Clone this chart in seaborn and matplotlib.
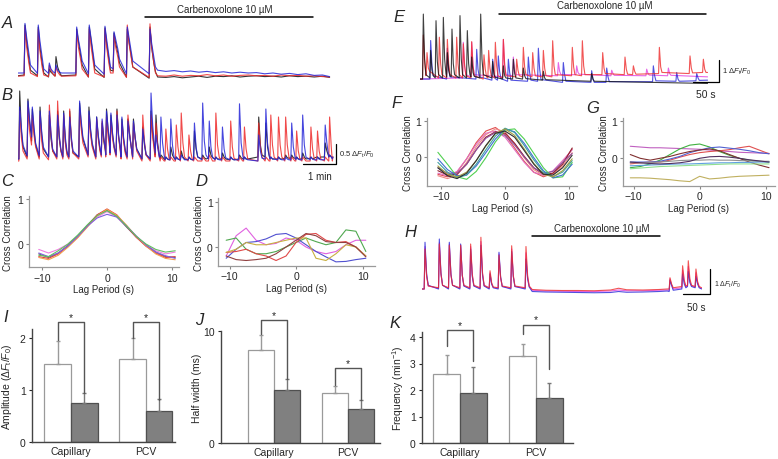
import numpy as np
import pandas as pd
import matplotlib
matplotlib.use('Agg')
import matplotlib.pyplot as plt
import seaborn as sns

sns.set_style('ticks')
plt.rcParams['font.family'] = ['Liberation Sans', 'DejaVu Sans']
plt.rcParams['mathtext.fontset'] = 'custom'
plt.rcParams['mathtext.rm'] = 'Liberation Sans'
plt.rcParams['mathtext.it'] = 'Liberation Sans:italic'

W, H = 778, 460
DFF = r'$\Delta F_{\rm t}/F_0$'

# ---------------- traces (time in s, dF/F0) ----------------
# A: per event rows = base (t-1.5), peak, t+3, t+7, t+10
a_events = [13.6, 37.8, 57.9, 70, 107.7, 130.6, 159.2, 175.6, 199.8, 241.1]
a_black = [[0.0, -0.02, -0.05, -0.02, 0.0, -0.05, -0.06, 0.1, -0.05, -0.08],
           [1.25, 1.2, 0.15, 0.46, 1.15, 1.2, 1.18, 1.05, 1.15, 1.2],
           [0.85, 0.7, 0.07, 0.2, 0.85, 0.9, 0.8, 0.8, 0.85, 0.7],
           [0.4, 0.3, 0.02, 0.05, 0.5, 0.45, 0.4, 0.55, 0.5, 0.3],
           [0.12, 0.05, -0.02, -0.02, 0.25, 0.15, 0.12, 0.3, 0.2, 0.08]]
a_red = [[-0.02, -0.04, -0.04, -0.03, -0.02, -0.05, -0.05, 0.05, -0.06, -0.06],
         [1.2, 1.15, 0.25, 0.2, 1.1, 1.15, 1.15, 1.0, 1.25, 1.28],
         [0.7, 0.6, 0.12, 0.08, 0.7, 0.75, 0.7, 0.7, 0.8, 0.7],
         [0.3, 0.2, 0.02, 0.0, 0.4, 0.35, 0.3, 0.45, 0.45, 0.3],
         [0.05, 0.0, -0.03, -0.03, 0.15, 0.05, 0.05, 0.2, 0.2, 0.05]]
a_blue = [[0.05, 0.04, 0.04, 0.06, 0.05, 0.03, 0.02, 0.15, 0.03, 0.03],
          [1.29, 1.25, 0.3, 0.25, 1.2, 1.25, 1.22, 1.08, 1.2, 1.15],
          [0.95, 0.85, 0.15, 0.12, 0.9, 0.95, 0.9, 0.9, 0.95, 0.8],
          [0.55, 0.45, 0.08, 0.07, 0.6, 0.55, 0.5, 0.65, 0.6, 0.45],
          [0.25, 0.15, 0.05, 0.05, 0.35, 0.25, 0.2, 0.4, 0.35, 0.2]]
a_flat_t = [0, 255, 270, 285, 300, 315, 330, 345, 360, 375, 390, 405, 420, 435,
            450, 465, 480, 495, 510, 525, 540, 555, 568]
a_flat_black = [-0.02, -0.05, -0.06, -0.04, -0.07, -0.05, -0.03, -0.06, -0.03, -0.04, -0.02, -0.05,
                -0.03, -0.02, -0.04, -0.03, -0.05, -0.02, -0.04, -0.03, -0.05, -0.03, -0.06]
a_flat_red = [-0.03, -0.02, -0.03, 0.0, -0.03, -0.01, -0.02, 0.01, -0.02, 0.0, -0.03, -0.01,
              0.0, -0.02, -0.01, -0.03, 0.0, -0.02, -0.01, -0.03, -0.02, -0.04, -0.05]
a_flat_blue = [0.05, 0.12, 0.09, 0.11, 0.08, 0.1, 0.07, 0.09, 0.06, 0.08, 0.05, 0.07,
               0.05, 0.06, 0.03, 0.05, 0.02, 0.04, 0.01, 0.03, -0.01, 0.0, -0.04]
a_drug = (232, 538)

# B: per event rows = base (t-1.5), peak, t+3, t+6
b_events = [4, 19, 27, 41, 58, 73, 84, 95, 113, 130, 144, 154, 162, 170, 181, 190, 201, 211,
            228, 243, 252, 261, 270, 279, 289, 298, 312, 322, 337, 349, 361, 373, 388, 404,
            413, 439, 452, 461, 475, 488, 499, 508, 519, 534, 546, 560, 568]
b_black = [[0.0, 0.05, 0.45, 0.05, 0.05, 0.05, 0.05, 0.05, 0.05, 0.1, 0.05, 0.1, 0.1, 0.15, 0.1, 0.05,
            0.05, 0.05, 0.0, 0.0, 0.1, 0.0, -0.02, 0.0, -0.02, 0.0, -0.02, 0.0, 0.0, 0.02, 0.0, 0.0,
            -0.02, 0.0, 0.0, 0.05, 0.05, 0.0, 0.0, 0.02, 0.02, 0.0, 0.0, 0.02, 0.05, 0.05, 0.05],
           [1.7, 1.5, 1.25, 1.3, 1.1, 1.2, 1.2, 1.2, 1.4, 1.3, 1.05, 0.9, 1.25, 1.1, 1.25, 1.0,
            1.0, 1.0, 0.8, 1.2, 1.1, 0.1, 0.05, 0.3, 0.05, 0.2, 0.05, 0.7, 0.1, 0.3, 0.05, 0.15,
            0.05, 0.1, 0.05, 1.05, 0.9, 0.05, 0.05, 0.1, 0.1, 0.05, 0.15, 0.05, 0.05, 0.4, 0.1],
           [0.7, 0.9, 0.7, 0.6, 0.5, 0.5, 0.45, 0.45, 0.85, 0.7, 0.55, 0.45, 0.7, 0.6, 0.55, 0.5,
            0.6, 0.55, 0.35, 0.6, 0.4, 0.05, 0.0, 0.1, 0.0, 0.05, 0.0, 0.25, 0.03, 0.1, 0.0, 0.05,
            0.0, 0.03, 0.0, 0.35, 0.3, 0.0, 0.0, 0.03, 0.03, 0.0, 0.05, 0.0, 0.0, 0.2, 0.05],
           [0.3, 0.6, 0.35, 0.25, 0.2, 0.2, 0.15, 0.15, 0.5, 0.35, 0.25, 0.2, 0.35, 0.3, 0.25, 0.2,
            0.3, 0.25, 0.1, 0.3, 0.1, 0.0, -0.02, 0.02, -0.02, 0.0, -0.02, 0.05, 0.0, 0.03, 0.0, 0.0,
            -0.02, 0.0, 0.0, 0.1, 0.08, 0.0, 0.0, 0.02, 0.02, 0.0, 0.0, 0.02, 0.05, 0.08, 0.05]]
b_red = [[-0.05, 0.0, 0.35, 0.0, -0.02, 0.0, 0.0, 0.0, 0.0, 0.05, 0.0, 0.05, 0.05, 0.1, 0.05, 0.0,
          0.0, 0.0, -0.05, -0.05, 0.05, -0.05, -0.05, -0.03, -0.05, -0.05, -0.05, -0.05, -0.05, -0.05,
          -0.05, -0.05, -0.05, -0.05, -0.05, -0.05, -0.05, -0.05, -0.05, -0.05, -0.05, -0.05, -0.05,
          -0.05, -0.05, -0.05, -0.05],
         [1.2, 1.3, 1.1, 1.1, 1.35, 1.45, 1.1, 1.25, 1.2, 1.1, 1.0, 0.95, 1.05, 0.95, 1.2, 0.9,
          1.1, 0.9, 1.1, 1.1, 0.9, 0.05, 0.75, 0.05, 0.85, 1.15, 0.6, 0.05, 0.05, 0.1, 1.15, 0.05,
          0.95, 0.05, 0.8, 0.9, 0.05, 1.1, 1.05, 1.05, 0.05, 0.7, 0.05, 0.8, 0.7, 0.05, 1.05],
         [0.55, 0.7, 0.6, 0.45, 0.6, 0.55, 0.4, 0.5, 0.75, 0.6, 0.5, 0.5, 0.55, 0.5, 0.55, 0.45,
          0.65, 0.5, 0.45, 0.55, 0.35, 0.0, 0.25, 0.0, 0.3, 0.4, 0.2, 0.0, 0.0, 0.03, 0.35, 0.0,
          0.3, 0.0, 0.25, 0.3, 0.0, 0.35, 0.35, 0.35, 0.0, 0.2, 0.0, 0.25, 0.2, 0.0, 0.3],
         [0.2, 0.4, 0.3, 0.15, 0.2, 0.2, 0.1, 0.15, 0.4, 0.3, 0.2, 0.2, 0.25, 0.25, 0.2, 0.15,
          0.3, 0.2, 0.1, 0.2, 0.05, -0.05, 0.0, -0.05, 0.02, 0.05, 0.0, -0.05, -0.05, -0.05, 0.05,
          -0.05, 0.02, -0.05, 0.0, 0.05, -0.05, 0.05, 0.05, 0.05, -0.05, 0.0, -0.05, 0.0, 0.0, -0.05, 0.05]]
b_blue = [[0.0, 0.08, 0.55, 0.08, 0.05, 0.05, 0.05, 0.05, 0.05, 0.1, 0.05, 0.1, 0.1, 0.15, 0.1, 0.05,
           0.05, 0.05, 0.0, 0.0, 0.15, 0.05, -0.02, -0.02, -0.02, -0.02, -0.02, -0.02, -0.02, 0.0,
           -0.02, -0.02, -0.02, -0.02, -0.02, -0.05, 0.0, 0.0, -0.02, -0.02, -0.02, -0.02, -0.02,
           -0.02, -0.02, -0.02, 0.05],
          [1.3, 1.45, 1.3, 1.2, 1.2, 1.1, 1.15, 1.05, 1.45, 1.2, 1.05, 1.0, 1.2, 1.15, 1.1, 1.05,
           0.95, 0.95, 0.75, 1.65, 0.6, 1.05, 0.05, 1.0, 0.05, 0.1, 0.05, 0.9, 1.4, 0.95, 0.05, 0.8,
           0.05, 1.38, 0.05, 0.6, 1.25, 0.05, 0.05, 0.05, 0.9, 0.05, 1.1, 0.05, 0.05, 0.85, 0.1],
          [0.8, 1.0, 0.8, 0.7, 0.65, 0.6, 0.55, 0.55, 0.95, 0.75, 0.6, 0.55, 0.75, 0.65, 0.6, 0.55,
           0.6, 0.55, 0.4, 0.85, 0.3, 0.4, 0.0, 0.35, 0.0, 0.03, 0.0, 0.3, 0.45, 0.3, 0.0, 0.25,
           0.0, 0.4, 0.0, 0.2, 0.4, 0.0, 0.0, 0.0, 0.3, 0.0, 0.35, 0.0, 0.0, 0.4, 0.05],
          [0.35, 0.65, 0.4, 0.3, 0.25, 0.25, 0.2, 0.2, 0.55, 0.4, 0.3, 0.25, 0.4, 0.3, 0.3, 0.25,
           0.3, 0.25, 0.12, 0.4, 0.05, 0.08, -0.02, 0.05, -0.02, -0.02, -0.02, 0.05, 0.1, 0.05, -0.02,
           0.03, -0.02, 0.08, -0.02, 0.02, 0.1, 0.0, -0.02, -0.02, 0.05, -0.02, 0.05, -0.02, -0.02, 0.1, 0.05]]
b_ends = {'black': ([0, 573], [0.0, 0.02]), 'red': ([0, 573], [-0.05, -0.05]),
          'blue': ([0, 573], [0.0, 0.0])}

# E: per event rows = base (t-1.5), peak, t+2.5, t+5
e_black_ev = [6.4, 20.5, 30.8, 44.9, 52.6, 61.5, 76.9, 91, 99.4, 116.7, 139.7, 160.3, 179.5,
              198.7, 237.2, 330.1]
e_black = [[0.0, 0.05, 0.05, 0.05, 0.1, 0.1, 0.05, 0.05, 0.1, 0.05, 0.05, 0.0, 0.0, 0.0, -0.05, -0.1],
           [2.95, 1.3, 2.65, 2.8, 1.2, 2.27, 2.88, 2.2, 1.0, 2.95, 0.8, 0.6, 0.9, 0.5, 0.35, 0.25],
           [0.9, 0.4, 0.8, 0.9, 0.4, 0.7, 0.9, 0.7, 0.3, 0.9, 0.2, 0.15, 0.25, 0.15, 0.05, 0.0],
           [0.2, 0.15, 0.2, 0.25, 0.15, 0.2, 0.2, 0.2, 0.12, 0.2, 0.08, 0.05, 0.05, 0.02, -0.03, -0.1]]
e_red_ev = [6.4, 13.5, 37.2, 52.6, 70.5, 83.3, 99.4, 123, 132, 144.9, 160.3, 185.9, 198.7, 216.7,
            237.2, 255.1, 292.9, 312.2, 351.3, 394.2, 410.3, 460.3, 519.2, 544.9]
e_red = [[0.0, 0.3, 0.05, 0.05, 0.05, 0.05, 0.05, 0.0, 0.05, 0.05, 0.05, 0.1, 0.1, 0.1, 0.1, 0.1,
          0.15, 0.15, 0.2, 0.2, 0.2, 0.25, 0.25, 0.3],
         [2.0, 1.2, 1.9, 1.8, 1.9, 1.6, 1.7, 1.1, 1.3, 1.67, 1.8, 0.9, 1.44, 1.2, 1.3, 1.74, 1.44,
          1.74, 1.2, 1.0, 0.6, 1.44, 1.05, 0.9],
         [0.8, 0.5, 0.7, 0.7, 0.7, 0.6, 0.6, 0.45, 0.5, 0.6, 0.65, 0.4, 0.55, 0.5, 0.5, 0.6, 0.55,
          0.6, 0.5, 0.45, 0.35, 0.55, 0.5, 0.45],
         [0.15, 0.35, 0.2, 0.2, 0.2, 0.15, 0.15, 0.1, 0.15, 0.15, 0.15, 0.15, 0.2, 0.15, 0.15, 0.2,
          0.2, 0.2, 0.25, 0.22, 0.22, 0.3, 0.28, 0.3]]
e_blue_ev = [20.5, 52.6, 109, 139.7, 150.6, 169.9, 208.3, 227.6, 275.6, 330.1, 359, 448.7, 493.6, 532.1]
e_blue = [[0.0, 0.0, 0.0, -0.05, -0.05, -0.1, -0.1, -0.1, -0.15, -0.15, -0.15, -0.12, -0.1, -0.08],
          [1.75, 1.4, 1.35, 0.9, 1.05, 0.9, 1.0, 1.4, 0.75, 0.38, 0.5, 0.6, 0.3, 0.25],
          [0.6, 0.5, 0.45, 0.3, 0.35, 0.3, 0.3, 0.45, 0.2, 0.0, 0.1, 0.15, 0.0, 0.05],
          [0.15, 0.1, 0.1, 0.02, 0.02, -0.05, -0.05, -0.02, -0.1, -0.15, -0.12, -0.08, -0.1, -0.06]]
e_mag_ev = [83.3, 99.4, 160.3, 179.5, 266, 301.3, 368.6, 435.9, 477.6]
e_mag = [[0.05, 0.1, 0.1, 0.15, 0.15, 0.2, 0.15, 0.15, 0.15],
         [1.67, 1.67, 1.8, 1.0, 0.75, 0.6, 0.4, 0.45, 0.5],
         [0.6, 0.6, 0.6, 0.4, 0.35, 0.3, 0.25, 0.25, 0.25],
         [0.2, 0.2, 0.2, 0.2, 0.2, 0.22, 0.17, 0.18, 0.17]]
e_ends = {'black': ([0, 553], [0.0, -0.2]), 'red': ([0, 553], [0.0, 0.3]),
          'blue': ([0, 553], [0.0, -0.05]), 'mag': ([0, 553], [0.0, 0.1])}
e_drug = (152, 550)

# H: per event rows = base (t-1.5), peak, t+3, t+6
h_events = [6.5, 33, 51.5, 72.5, 91, 110, 126.9, 143.5, 167, 193.5, 460.2, 483.6, 494.1, 508.3]
h_blue = [[0, 0, 0, 0, 0, 0, 0, 0, 0, 0, -0.1, 0.0, 0.1, 0.05],
          [1.87, 2.0, 1.87, 1.8, 1.6, 1.75, 0.6, 1.47, 1.5, 1.2, 0.35, 0.6, 0.7, 0.5],
          [0.6, 0.65, 0.6, 0.55, 0.5, 0.55, 0.2, 0.5, 0.5, 0.4, 0.15, 0.2, 0.25, 0.2],
          [0.15, 0.15, 0.15, 0.12, 0.12, 0.12, 0.05, 0.1, 0.1, 0.08, -0.05, 0.05, 0.1, 0.05]]
h_red = [[0.0, 0.05, 0.05, 0.05, 0.05, 0.05, 0.05, 0.05, 0.05, 0.05, 0.0, 0.1, 0.15, 0.1],
         [1.6, 1.8, 1.75, 1.75, 1.8, 2.07, 0.73, 1.35, 1.73, 1.7, 0.45, 0.93, 1.13, 0.8],
         [0.5, 0.6, 0.55, 0.55, 0.6, 0.65, 0.25, 0.45, 0.55, 0.55, 0.2, 0.35, 0.4, 0.3],
         [0.12, 0.15, 0.15, 0.15, 0.15, 0.15, 0.08, 0.12, 0.12, 0.12, 0.05, 0.12, 0.15, 0.1]]
h_mag = [[0.0, 0.03, 0.03, 0.03, 0.03, 0.03, 0.03, 0.03, 0.03, 0.03, -0.05, 0.05, 0.12, 0.08],
         [1.7, 1.85, 1.8, 1.75, 1.7, 1.9, 0.65, 1.4, 1.6, 1.45, 0.4, 0.75, 0.9, 0.65],
         [0.55, 0.6, 0.6, 0.55, 0.55, 0.6, 0.2, 0.45, 0.5, 0.45, 0.15, 0.3, 0.3, 0.25],
         [0.12, 0.15, 0.15, 0.13, 0.13, 0.13, 0.06, 0.1, 0.1, 0.1, 0.0, 0.08, 0.12, 0.07]]
h_flat_t = [0, 205, 230, 260, 290, 320, 350, 365, 380, 410, 440, 455, 518.8]
h_flat_blue = [0.0, -0.1, -0.12, -0.13, -0.14, -0.15, -0.14, -0.1, -0.13, -0.12, -0.1, -0.08, 0.0]
h_flat_red = [0.0, -0.02, -0.05, -0.06, -0.06, -0.07, -0.04, 0.03, -0.03, -0.04, -0.02, 0.0, 0.05]
h_flat_mag = [0.0, -0.05, -0.08, -0.09, -0.1, -0.1, -0.08, -0.04, -0.07, -0.07, -0.05, -0.04, 0.02]
h_drug = (204, 442)

# ---------------- cross correlations ----------------
lags = [-10.5, -9, -7.5, -6, -4.5, -3, -1.5, 0, 1.5, 3, 4.5, 6, 7.5, 9, 10.5]
c_curves = [
    [-0.12, -0.2, -0.12, 0.0, 0.18, 0.4, 0.6, 0.72, 0.6, 0.38, 0.15, -0.02, -0.15, -0.22, -0.18],
    [-0.22, -0.3, -0.2, -0.03, 0.18, 0.42, 0.65, 0.75, 0.62, 0.38, 0.16, -0.03, -0.18, -0.28, -0.3],
    [-0.28, -0.32, -0.22, -0.05, 0.15, 0.4, 0.65, 0.78, 0.65, 0.4, 0.15, -0.05, -0.2, -0.3, -0.28],
    [-0.3, -0.35, -0.25, -0.07, 0.14, 0.38, 0.63, 0.77, 0.64, 0.42, 0.17, -0.04, -0.22, -0.32, -0.35],
    [-0.2, -0.28, -0.2, -0.04, 0.17, 0.4, 0.58, 0.66, 0.6, 0.4, 0.18, -0.02, -0.18, -0.26, -0.32],
    [-0.25, -0.28, -0.15, 0.0, 0.2, 0.43, 0.63, 0.74, 0.62, 0.4, 0.17, 0.0, -0.12, -0.18, -0.15]]
c_colors = ['#f07ee0', '#666666', '#e04040', '#f0a050', '#8060e0', '#60c060']
d_curves = [
    [-0.2, 0.25, 0.42, 0.15, 0.05, 0.08, 0.2, 0.15, 0.0, -0.1, -0.15, -0.1, 0.05, 0.15, 0.15],
    [0.15, 0.2, -0.05, -0.15, -0.15, -0.1, 0.0, 0.1, 0.2, 0.12, 0.05, 0.1, 0.38, 0.35, -0.1],
    [-0.25, -0.05, 0.1, 0.12, 0.18, 0.28, 0.3, 0.2, 0.05, -0.1, -0.22, -0.33, -0.32, -0.28, -0.25],
    [-0.12, -0.1, -0.05, -0.15, -0.2, -0.3, -0.2, 0.1, 0.28, 0.3, 0.15, 0.1, 0.12, 0.0, -0.2],
    [-0.12, -0.05, 0.1, 0.05, 0.05, 0.1, 0.15, 0.2, 0.2, -0.25, -0.3, -0.15, 0.05, 0.0, -0.2],
    [-0.2, -0.28, -0.3, -0.28, -0.25, -0.15, 0.0, 0.15, 0.3, 0.25, 0.12, 0.1, 0.1, 0.0, -0.22]]
d_colors = ['#e060e0', '#50a850', '#5050d0', '#e04848', '#c8b040', '#904040']
f_curves = [
    [-0.48, -0.55, -0.42, -0.05, 0.4, 0.72, 0.82, 0.62, 0.25, -0.12, -0.42, -0.55, -0.45, -0.15, 0.22],
    [-0.52, -0.6, -0.5, -0.15, 0.28, 0.62, 0.78, 0.7, 0.36, -0.02, -0.35, -0.52, -0.5, -0.25, 0.12],
    [-0.45, -0.52, -0.4, -0.05, 0.35, 0.66, 0.72, 0.55, 0.2, -0.15, -0.43, -0.5, -0.38, -0.1, 0.2],
    [-0.38, -0.5, -0.48, -0.2, 0.2, 0.55, 0.7, 0.66, 0.38, 0.02, -0.3, -0.48, -0.45, -0.2, 0.25],
    [-0.3, -0.45, -0.45, -0.2, 0.2, 0.52, 0.68, 0.6, 0.33, 0.0, -0.3, -0.45, -0.4, -0.15, 0.1],
    [0.13, -0.2, -0.55, -0.62, -0.4, -0.02, 0.42, 0.75, 0.78, 0.5, 0.1, -0.3, -0.58, -0.55, -0.15],
    [-0.05, -0.35, -0.52, -0.5, -0.25, 0.12, 0.5, 0.78, 0.7, 0.38, -0.02, -0.38, -0.58, -0.5, -0.2],
    [-0.15, -0.42, -0.58, -0.5, -0.2, 0.2, 0.58, 0.8, 0.68, 0.32, -0.08, -0.42, -0.55, -0.42, -0.1],
    [-0.25, -0.48, -0.56, -0.42, -0.1, 0.3, 0.65, 0.78, 0.6, 0.22, -0.18, -0.48, -0.55, -0.38, -0.05],
    [-0.3, -0.52, -0.6, -0.45, -0.1, 0.32, 0.66, 0.72, 0.55, 0.18, -0.2, -0.48, -0.5, -0.3, 0.05]]
f_colors = ['#e05050', '#f08888', '#e070c0', '#902030', '#9050a0',
            '#50d050', '#4070d0', '#40a0a0', '#a0a040', '#303030']
g_curves = [
    [0.32, 0.3, 0.28, 0.28, 0.27, 0.26, 0.25, 0.24, 0.22, 0.2, 0.18, 0.16, 0.15, 0.14, 0.13],
    [-0.25, -0.22, -0.15, -0.05, 0.1, 0.25, 0.35, 0.38, 0.3, 0.18, 0.08, 0.0, -0.05, -0.08, -0.1],
    [-0.15, -0.12, -0.1, -0.1, -0.05, 0.03, 0.1, 0.15, 0.18, 0.2, 0.23, 0.28, 0.32, 0.22, 0.12],
    [-0.1, -0.1, -0.1, -0.08, -0.02, 0.05, 0.15, 0.22, 0.28, 0.3, 0.27, 0.24, 0.2, 0.15, 0.12],
    [0.1, 0.0, -0.05, 0.0, 0.05, 0.12, 0.18, 0.22, 0.25, 0.2, 0.1, 0.0, -0.1, -0.18, -0.25],
    [-0.12, -0.12, -0.11, -0.1, -0.08, -0.06, -0.05, -0.05, -0.04, -0.05, -0.05, -0.06, -0.07, -0.08, -0.08],
    [-0.2, -0.19, -0.18, -0.17, -0.16, -0.15, -0.15, -0.14, -0.13, -0.12, -0.12, -0.11, -0.11, -0.1, -0.1],
    [-0.28, -0.26, -0.24, -0.22, -0.21, -0.2, -0.19, -0.18, -0.17, -0.16, -0.15, -0.15, -0.15, -0.15, -0.15],
    [-0.52, -0.52, -0.53, -0.55, -0.57, -0.6, -0.62, -0.48, -0.55, -0.53, -0.5, -0.48, -0.47, -0.46, -0.45],
    [-0.1, -0.12, -0.14, -0.15, -0.14, -0.12, -0.08, 0.0, 0.04, 0.05, 0.03, 0.0, -0.04, -0.07, -0.1]]
g_colors = ['#c060c0', '#40b040', '#e05050', '#5060d0', '#803030',
            '#909090', '#60a0e0', '#90e090', '#c0b060', '#503060']

# ---------------- summary bars ----------------
sites = ['Capillary', 'PCV']
i_ctrl, i_ctrl_err = [1.5, 1.6], [0.44, 0.4]
i_cbx, i_cbx_err = [0.75, 0.6], [0.19, 0.22]
j_ctrl, j_ctrl_err = [8.3, 4.5], [1.3, 0.6]
j_cbx, j_cbx_err = [4.7, 3.0], [1.0, 0.85]
k_ctrl, k_ctrl_err = [2.6, 3.3], [0.72, 0.44]
k_cbx, k_cbx_err = [1.9, 1.7], [0.95, 0.56]
# significance brackets: top, left leg end, right leg end
i_sig = ([2.3, 2.3], [1.95, 2.0], [0.94, 0.8])
j_sig = ([11.0, 6.7], [9.7, 5.2], [5.7, 3.85])
k_sig = ([4.25, 4.47], [3.66, 4.1], [3.1, 2.8])

fig = plt.figure(figsize=(W / 100, H / 100), dpi=100)


def px_axes(x0, y0, x1, y1):
    return fig.add_axes([x0 / W, 1 - y1 / H, (x1 - x0) / W, (y1 - y0) / H])


def ftext(x, y, s, **kw):
    fig.text(x / W, 1 - y / H, s, **kw)


def build(events, cols, offsets, extra_t, extra_v):
    t = (np.asarray(events, float)[:, None] + np.asarray(offsets, float)[None, :]).ravel()
    v = np.column_stack(cols).ravel()
    t = np.concatenate([t, extra_t])
    v = np.concatenate([v, extra_v])
    o = np.argsort(t, kind='stable')
    return t[o], v[o]


def draw_trace(ax, t, v, color, lw=0.8, alpha=0.85):
    sns.lineplot(x=t, y=v, ax=ax, color=color, linewidth=lw, alpha=alpha,
                 estimator=None, sort=False)


def drug_bar(ax, span, ybar, ytxt, xtxt):
    tr = ax.get_xaxis_transform()
    ax.plot(span, [ybar, ybar], color='black', lw=1.1, transform=tr, clip_on=False)
    ax.text(xtxt, ytxt, 'Carbenoxolone 10 \u00b5M', transform=tr, ha='center',
            va='center', fontsize=7)


def scale_bar(ax, x0, x1, y0, y1):
    ax.plot([x0, x1, x1], [y0, y0, y1], color='black', lw=0.9, clip_on=False)


RED, BLUE, BLACK, MAG = '#ee2a2a', '#2626d8', '#111111', '#e040e0'

# ---- A ----
axA = px_axes(17.5, 20, 334, 82)
for cols, flat, c in [(a_black, a_flat_black, BLACK), (a_red, a_flat_red, RED), (a_blue, a_flat_blue, BLUE)]:
    t, v = build(a_events, cols, [-1.5, 0, 3, 7, 10], a_flat_t, flat)
    draw_trace(axA, t, v, c)
axA.set_xlim(0, 576)
axA.set_ylim(-0.15, 1.4)
axA.axis('off')
drug_bar(axA, a_drug, 1.04, 1.16, 377)

# ---- B ----
axB = px_axes(17.5, 88, 334, 168)
for cols, key, c in [(b_black, 'black', BLACK), (b_red, 'red', RED), (b_blue, 'blue', BLUE)]:
    t, v = build(b_events, cols, [-1.5, 0, 3, 6], *b_ends[key])
    draw_trace(axB, t, v, c)
axB.set_xlim(0, 576)
axB.set_ylim(-0.2, 1.8)
axB.axis('off')
scale_bar(axB, 519.5, 579.5, -0.125, 0.375)
axB.text(585, 0.13, '0.5 ' + DFF, fontsize=5.5, ha='left', va='center')
axB.text(549.5, -0.43, '1 min', fontsize=7, ha='center', va='center')

# ---- E ----
axE = px_axes(420, 12, 708, 86)
for ev, cols, key, c in [(e_mag_ev, e_mag, 'mag', MAG), (e_blue_ev, e_blue, 'blue', BLUE),
                         (e_red_ev, e_red, 'red', RED), (e_black_ev, e_black, 'black', BLACK)]:
    t, v = build(ev, cols, [-1.5, 0, 2.5, 5], *e_ends[key])
    draw_trace(axE, t, v, c, lw=0.8, alpha=0.8)
axE.set_xlim(0, 553.8)
axE.set_ylim(-0.27, 3.09)
axE.axis('off')
drug_bar(axE, e_drug, 0.96, 1.08, 356)
scale_bar(axE, 524, 574, -0.14, 0.86)
axE.text(580, 0.36, '1 ' + DFF, fontsize=5.5, ha='left', va='center')
axE.text(549, -0.68, '50 s', fontsize=7.5, ha='center', va='center')

# ---- H ----
axH = px_axes(421.5, 232, 702, 297)
for cols, flat, c in [(h_mag, h_flat_mag, MAG), (h_blue, h_flat_blue, BLUE), (h_red, h_flat_red, RED)]:
    t, v = build(h_events, cols, [-1.5, 0, 3, 6], h_flat_t, flat)
    draw_trace(axH, t, v, c, lw=0.8, alpha=0.8)
axH.set_xlim(0, 519.5)
axH.set_ylim(-0.28, 2.32)
axH.axis('off')
drug_bar(axH, h_drug, 0.923, 1.046, 334)
scale_bar(axH, 484.3, 534.3, -0.2, 0.8)
axH.text(541, 0.2, '1 ' + DFF, fontsize=5, ha='left', va='center')
axH.text(509, -0.72, '50 s', fontsize=7, ha='center', va='center')


# ---- cross correlation panels ----
def cc_panel(box, curves, colors, xlim, ylim, ypad):
    ax = px_axes(*box)
    n = len(curves)
    df = pd.DataFrame({'lag': np.tile(lags, n), 'r': np.concatenate(curves),
                       'cell': np.repeat(np.arange(n), len(lags))})
    sns.lineplot(data=df, x='lag', y='r', hue='cell', palette=colors, legend=False,
                 linewidth=0.8, errorbar=None, ax=ax)
    ax.set_xlim(xlim)
    ax.set_ylim(ylim)
    ax.set_xticks([-10, 0, 10])
    ax.set_yticks([0, 1])
    ax.set_xlabel('Lag Period (s)', fontsize=7, labelpad=1)
    ax.set_ylabel('Cross Correlation', fontsize=7, labelpad=ypad)
    ax.tick_params(labelsize=7.5, length=2, width=0.8, color='#888888', pad=2)
    sns.despine(ax=ax)
    for s in ['left', 'bottom']:
        ax.spines[s].set_color('#9a9a9a')
        ax.spines[s].set_linewidth(0.9)
    return ax


cc_panel((29, 196.9, 178.5, 268.4), c_curves, c_colors, (-12, 11), (-0.52, 1.07), 3)
cc_panel((218.2, 198.5, 374.5, 266.9), d_curves, d_colors, (-11.7, 11.8), (-0.42, 1.1), 2)
cc_panel((427, 119.1, 577, 186.8), f_curves, f_colors, (-12.2, 11.25), (-0.8, 1.08), 2)
cc_panel((623, 119.1, 775, 186.7), g_curves, g_colors, (-11.6, 11.4), (-0.73, 1.07), 2)


# ---- bar panels ----
def bar_panel(box, ctrl, ctrl_err, cbx, cbx_err, sig, xlim, ylim, yticks, ylabel, ypad):
    ax = px_axes(*box)
    df = pd.DataFrame({'site': sites * 2, 'cond': ['control'] * 2 + ['cbx'] * 2,
                       'val': ctrl + cbx})
    sns.barplot(data=df, x='site', y='val', hue='cond', palette=['white', '#808080'],
                width=0.707, saturation=1, errorbar=None, legend=False, ax=ax)
    centers = []
    for cont, errs, ec, ecol in zip(ax.containers, [ctrl_err, cbx_err],
                                    ['#9a9a9a', '#505050'], ['#9a9a9a', '#777777']):
        xs = []
        for bar, e in zip(cont, errs):
            bar.set_edgecolor(ec)
            bar.set_linewidth(0.9)
            x = bar.get_x() + bar.get_width() / 2
            xs.append(x)
            ax.errorbar(x, bar.get_height(), yerr=[[0], [e]], color=ecol, lw=1,
                        capsize=1.6, capthick=1, zorder=1)
        centers.append(xs)
    top, left, right = sig
    for k in range(2):
        x0, x1 = centers[0][k], centers[1][k]
        ax.plot([x0, x0, x1, x1], [left[k], top[k], top[k], right[k]], color='#555555',
                lw=1, clip_on=False)
        ax.text((x0 + x1) / 2, top[k], '*', ha='center', va='bottom', fontsize=7.5)
    ax.set_xlim(xlim)
    ax.set_ylim(ylim)
    ax.set_yticks(yticks)
    ax.set_xlabel('')
    ax.set_ylabel(ylabel, fontsize=7.5, labelpad=ypad)
    ax.tick_params(axis='x', length=0, labelsize=7.5, pad=3)
    ax.tick_params(axis='y', length=2.5, width=0.8, labelsize=7.5, pad=2)
    sns.despine(ax=ax)
    for s in ['left', 'bottom']:
        ax.spines[s].set_color('#444444')
        ax.spines[s].set_linewidth(1)
    return ax


bar_panel((32, 330, 175, 443), i_ctrl, i_ctrl_err, i_cbx, i_cbx_err, i_sig,
          (-0.52, 1.387), (0, 2.17), [0, 1, 2], 'Amplitude (' + DFF + ')', 4)
bar_panel((221, 332, 380, 444), j_ctrl, j_ctrl_err, j_cbx, j_cbx_err, j_sig,
          (-0.716, 1.432), (0, 10), [0, 10], 'Half width (ms)', 1)
bar_panel((422, 332.7, 573, 444), k_ctrl, k_ctrl_err, k_cbx, k_cbx_err, k_sig,
          (-0.5, 1.487), (0, 4.2), [0, 1, 2, 3, 4], r'Frequency (min$^{-1}$)', 3)

# ---- panel letters ----
for lab, x, y in [('A', 7, 24), ('B', 7, 96), ('C', 7, 181), ('D', 201, 181), ('E', 399, 17),
                  ('F', 397, 104), ('G', 593, 109), ('H', 410, 233), ('I', 6, 318),
                  ('J', 199, 321), ('K', 395, 323)]:
    ftext(x, y, lab, fontsize=12, fontstyle='italic', ha='center', va='center')

fig.savefig('out.png', dpi=100)
